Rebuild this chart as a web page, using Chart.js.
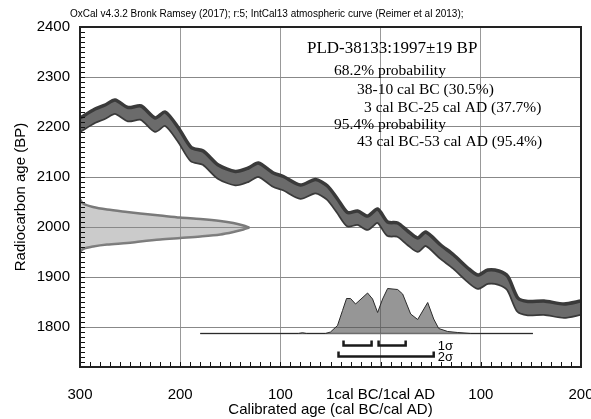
<!DOCTYPE html>
<html><head><meta charset="utf-8">
<script src="https://cdn.jsdelivr.net/npm/chart.js@4.4.0/dist/chart.umd.min.js"></script>
<style>html,body{margin:0;padding:0;background:#fff;}</style>
</head><body>
<canvas id="c" width="591" height="419"></canvas>
<script>
// ---------- DATA ----------
// calibration curve (IntCal13): calendar year (BC negative) and radiocarbon age BP
const calYears = [-300,-285,-275,-265,-252,-239,-225,-215,-202,-189,-177,-162,-145,-132,-122,-107,-97,-80,-65,-53,-43,-33,-23,-13,-3,7,17,27,37,45,60,73,87,97,107,118,127,137,147,163,183,200];
const calBP    = [2205,2223,2231,2241,2226,2229,2205,2217,2186,2146,2139,2111,2098,2105,2115,2095,2088,2071,2082,2069,2043,2016,2019,2009,2023,1997,1995,1979,1965,1977,1951,1931,1905,1891,1901,1899,1888,1845,1838,1839,1833,1839];
const calErr   = [13,13,13,13,13,13,13,13,13,13,13,13,13,13,13,13,13,13,13,13,13,13,13,13,13,13,13,13,13,13,13,13,13,13,13,13,13,13,13,13,13,13];

// radiocarbon date distribution drawn along the y axis (1997±19 BP)
const dateX       = [-300,-297,-287,-273,-253,-240,-220,-200,-180,-160,-147,-137,-131];
const dateUpperBP = [2055,2047,2040,2035,2030,2027,2023,2019,2016,2012,2008,2003,1999];
const dateLowerBP = [1950,1956,1961,1965,1968,1971,1975,1978,1981,1985,1990,1995,1999];

// calibrated (posterior) distribution at the bottom
const postX  = [-180,-82,-78,-74,-55,-50,-43,-38,-34,-30,-25,-13,-8,-3,2,7,17,22,30,37,47,53,58,67,77,90,152];
const postBP = [1787,1787,1788.5,1787,1787,1790,1803,1833,1857,1857,1846,1868,1856,1829,1856,1877,1875,1866,1826,1815,1849,1816,1797,1791,1789,1787,1787];
const postBase = 1787;

// highest probability density ranges (cal years, BC negative)
const range1Sigma = [[-37,-9],[-2,25]];
const range2Sigma = [[-42,53]];

// tick labels
const xTickValues = [-300,-200,-100,0,100,200];
const xTickLabels = ['300','200','100','1cal BC/1cal AD','100','200'];
const yTickValues = [1800,1900,2000,2100,2200,2300,2400];
const yTickLabels = ['1800','1900','2000','2100','2200','2300','2400'];

const headerText = 'OxCal v4.3.2 Bronk Ramsey (2017); r:5; IntCal13 atmospheric curve (Reimer et al 2013);';
const sampleTitle = 'PLD-38133:1997±19 BP';
const resultLines = ['68.2% probability','38-10 cal BC (30.5%)','3 cal BC-25 cal AD (37.7%)','95.4% probability','43 cal BC-53 cal AD (95.4%)'];

// ---------- build datasets ----------
const SANS = "'Liberation Sans', Arial, sans-serif";
const SERIF = "'Liberation Serif', 'Times New Roman', serif";

function pts(xs, ys){ return xs.map((v,i)=>({x:v,y:ys[i]})); }
function bracket(r, lvlBottom, lvlTop){ return [{x:r[0],y:lvlTop},{x:r[0],y:lvlBottom},{x:r[1],y:lvlBottom},{x:r[1],y:lvlTop}]; }

const S1_BOTTOM = 1763, S1_TOP = 1773, S2_BOTTOM = 1741, S2_TOP = 1751;

const datasets = [
  // calibration band
  {data: pts(calYears, calBP.map((v,i)=>v+calErr[i])), borderColor:'#3a3a3a', borderWidth:3.5, backgroundColor:'#6b6b6b', fill:'+1', order:1, tension:0.25},
  {data: pts(calYears, calBP.map((v,i)=>v-calErr[i])), borderColor:'#3a3a3a', borderWidth:3.5, fill:false, order:1, tension:0.25},
  // radiocarbon date distribution
  {data: pts(dateX, dateUpperBP), borderColor:'#7a7a7a', borderWidth:2.5, backgroundColor:'rgba(140,140,140,0.45)', fill:'+1', order:3, tension:0.3},
  {data: pts(dateX, dateLowerBP), borderColor:'#7a7a7a', borderWidth:2.5, fill:false, order:3, tension:0.3},
  // posterior baseline
  {data: [{x:postX[0],y:postBase},{x:postX[postX.length-1],y:postBase}], borderColor:'#7a7a7a', borderWidth:1.5, fill:false, order:4},
  // posterior distribution
  {data: pts(postX, postBP), borderColor:'#2a2a2a', borderWidth:1, backgroundColor:'rgba(80,80,80,0.6)', fill:{value:postBase}, order:2},
];
range1Sigma.forEach(r=>datasets.push({data: bracket(r,S1_BOTTOM,S1_TOP), borderColor:'#1a1a1a', borderWidth:2.5, fill:false, order:0, borderCapStyle:'butt', borderJoinStyle:'miter'}));
range2Sigma.forEach(r=>datasets.push({data: bracket(r,S2_BOTTOM,S2_TOP), borderColor:'#1a1a1a', borderWidth:2.5, fill:false, order:0, borderCapStyle:'butt', borderJoinStyle:'miter'}));

const overlay = {
  id:'overlay',
  afterDatasetsDraw(chart){
    const {ctx, chartArea:a, scales:{x,y}} = chart;
    ctx.save();
    // minor ticks (inside)
    ctx.strokeStyle='#111'; ctx.lineWidth=1;
    ctx.beginPath();
    for (let v=1730; v<2400; v+=10){ const py=Math.round(y.getPixelForValue(v))+0.5; ctx.moveTo(a.left, py); ctx.lineTo(a.left+5, py);}
    for (let v=-290; v<200; v+=10){ const px=Math.round(x.getPixelForValue(v))+0.5; ctx.moveTo(px,a.bottom); ctx.lineTo(px,a.bottom-5);}
    ctx.stroke();
    // frame
    ctx.lineWidth=2; ctx.strokeStyle='#222';
    ctx.strokeRect(a.left, a.top, a.right-a.left, a.bottom-a.top);
    // header
    ctx.fillStyle='#000';
    ctx.textBaseline='alphabetic';
    ctx.font='10px '+SANS; ctx.textAlign='left';
    ctx.fillText(headerText, 70, 17);
    // sample + ranges
    ctx.font='17px '+SERIF;
    ctx.fillText(sampleTitle, 307, 53);
    ctx.font='15.5px '+SERIF;
    const lx=[334,357,364,334,357], ly=[75,94,112,129,146];
    resultLines.forEach((t,i)=>ctx.fillText(t, lx[i], ly[i]));
    // sigma labels
    ctx.font='13px '+SANS;
    ctx.textBaseline='middle';
    ctx.fillText('1σ', x.getPixelForValue(57), y.getPixelForValue(1762));
    ctx.fillText('2σ', x.getPixelForValue(57), y.getPixelForValue(1740));
    ctx.restore();
  }
};

new Chart(document.getElementById('c'), {
  type:'line',
  data:{datasets},
  options:{
    responsive:false, animation:false,
    layout:{padding:{left:0,top:27,right:10,bottom:0}},
    elements:{point:{radius:0}, line:{tension:0}},
    plugins:{legend:{display:false}, tooltip:{enabled:false}},
    scales:{
      x:{type:'linear', min:-300, max:200,
        afterBuildTicks:s=>{s.ticks=xTickValues.map(v=>({value:v}));},
        afterFit:s=>{s.height=52; s.paddingLeft=0; s.paddingRight=0;},
        ticks:{autoSkip:false, maxRotation:0, padding:19, color:'#000', font:{family:SANS,size:15},
          callback:(v)=>{const i=xTickValues.indexOf(v); return i>=0?xTickLabels[i]:'';}},
        grid:{drawTicks:false, color:c=>(c.tick&&(c.tick.value===-300||c.tick.value===200))?'rgba(0,0,0,0)':'#999', lineWidth:1},
        border:{display:false},
        title:{display:true, text:'Calibrated age (cal BC/cal AD)', color:'#000', font:{family:SANS,size:15}, padding:{top:0,bottom:0}}
      },
      y:{type:'linear', min:1720, max:2400,
        afterBuildTicks:s=>{s.ticks=yTickValues.map(v=>({value:v}));},
        afterFit:s=>{s.width=80; s.paddingTop=0; s.paddingBottom=0;},
        ticks:{padding:10, color:'#000', font:{family:SANS,size:15},
          callback:(v)=>{const i=yTickValues.indexOf(v); return i>=0?yTickLabels[i]:'';}},
        grid:{drawTicks:false, color:c=>(c.tick&&c.tick.value===2400)?'rgba(0,0,0,0)':'#888', lineWidth:1},
        border:{display:false},
        title:{display:true, text:'Radiocarbon age (BP)', color:'#000', font:{family:SANS,size:15}, padding:{top:12,bottom:0}}
      }
    }
  },
  plugins:[overlay]
});
</script>
</body></html>
